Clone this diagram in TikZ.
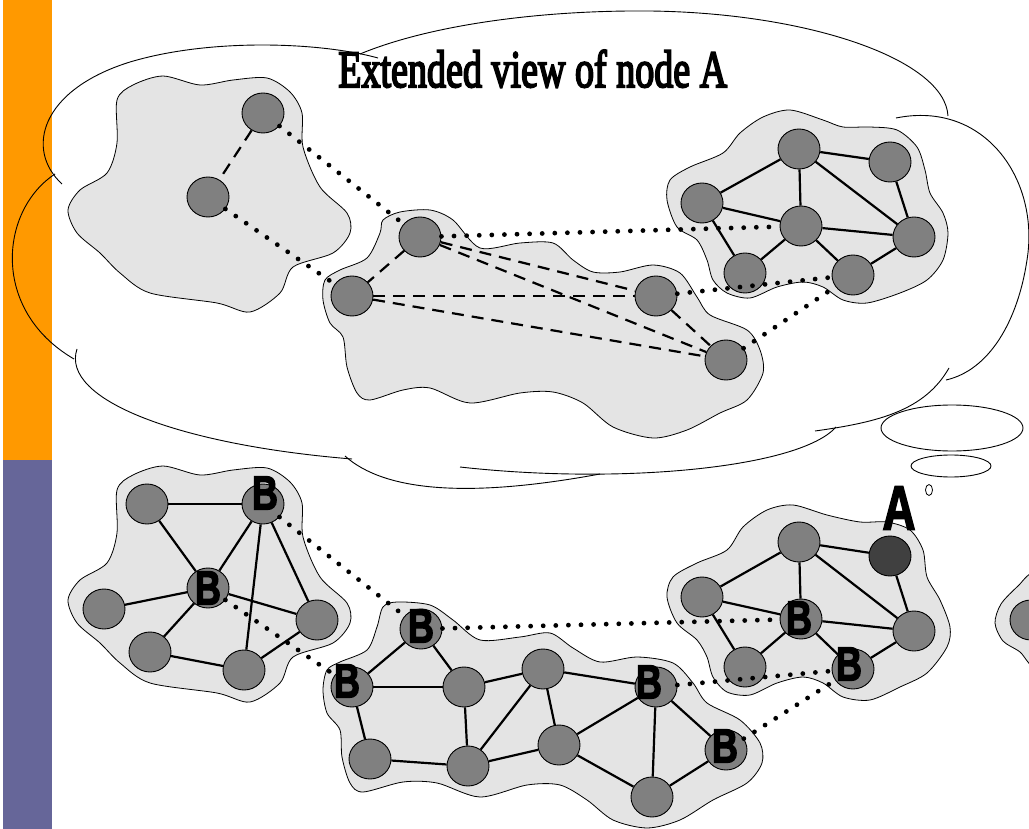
\documentclass[tikz,border=0pt]{standalone}
\usepackage{fontspec}
\setmainfont{Liberation Serif}
\setsansfont{Liberation Sans}
\newfontfamily\titlefont{Liberation Serif}[FakeBold=4]
\newfontfamily\labelfont{Liberation Sans Bold}[FakeBold=3]
\usetikzlibrary{shapes.geometric}
\definecolor{barorange}{HTML}{FF9900}
\definecolor{barpurple}{HTML}{666699}
\definecolor{blobgray}{HTML}{E4E4E4}
\definecolor{nodegray}{HTML}{808080}
\definecolor{nodedark}{HTML}{404040}
\begin{document}
\begin{tikzpicture}[x=1pt,y=-1pt,
  vtx/.style={ellipse, draw=black, line width=0.9pt, fill=nodegray, minimum width=42pt, minimum height=40pt, inner sep=0pt},
  avtx/.style={vtx, fill=nodedark},
  blob/.style={draw=black, line width=0.8pt, fill=blobgray},
  cloudline/.style={draw=black, line width=0.9pt},
  solidedge/.style={line width=2.2pt},
  dashedge/.style={line width=2.2pt, dash pattern=on 12pt off 8pt},
  dotedge/.style={line width=4.8pt, line cap=round, dash pattern=on 0pt off 12.6pt},
  blabel/.style={inner sep=0pt, font=\labelfont}
]
\useasboundingbox (0,0) rectangle (1029,829);
\begin{scope}
\clip (0,0) rectangle (1029,829);
% side bar
\fill[barorange] (3,0) rectangle (52,460);
\fill[barpurple] (3,460) rectangle (52,829);
% thought cloud
\draw[cloudline] (62,184) .. controls (25,150) and (40,90) .. (130,62) .. controls (210,38) and (320,42) .. (378,58);
\draw[cloudline] (360,54) .. controls (430,25) and (540,10) .. (650,11) .. controls (810,13) and (945,60) .. (948,116);
\draw[cloudline] (896,118) .. controls (985,100) and (1040,180) .. (1027,260) .. controls (1018,320) and (990,370) .. (946,380);
\draw[cloudline] (949,368) .. controls (925,410) and (880,422) .. (815,431);
\draw[cloudline] (836,427) .. controls (800,468) and (620,485) .. (460,467);
\draw[cloudline] (345,456) .. controls (385,492) and (470,498) .. (600,474);
\draw[cloudline] (77,349) .. controls (60,400) and (180,445) .. (352,459);
\draw[cloudline] (55,174) .. controls (0,210) and (-10,310) .. (74,359);
\draw[cloudline] (952,428) ellipse [x radius=71, y radius=23];
\draw[cloudline] (951,466) ellipse [x radius=40, y radius=11];
\draw[line width=0.8pt] (929,490) ellipse [x radius=3.5, y radius=5.5];
\node[anchor=base west, inner sep=0pt] (title) at (338,87) {\resizebox{389pt}{37pt}{\fontsize{50}{50}\titlefont Extended view of node A}};
% ---------- blobs ----------
\draw[blob] plot[smooth cycle] coordinates {(117,100) (133,85) (163,76) (200,85) (233,80) (267,78) (290,92) (302,113) (303,147) (320,187) (347,213) (350,233) (333,253) (293,267) (280,293) (250,312) (217,303) (150,293) (120,273) (100,253) (77,233) (68,210) (80,190) (107,173) (117,143)};
\draw[blob] plot[smooth cycle] coordinates {(383,220) (400,212) (430,210) (453,220) (480,248) (520,243) (553,243) (573,260) (593,272) (620,272) (653,265) (680,273) (697,297) (710,315) (747,330) (760,350) (763,373) (747,400) (720,413) (687,430) (653,438) (613,427) (583,403) (553,392) (520,393) (470,403) (430,388) (403,390) (370,400) (357,393) (347,367) (343,337) (330,323) (323,300) (325,280) (340,270) (367,258) (380,233)};
\draw[blob] plot[smooth cycle] coordinates {(667,200) (670,180) (690,167) (723,153) (740,133) (763,117) (790,110) (823,120) (843,127) (870,127) (897,130) (917,147) (925,170) (930,193) (943,213) (948,233) (943,260) (927,280) (900,293) (867,303) (843,300) (823,287) (803,282) (777,287) (750,298) (727,293) (713,280) (707,260) (697,240) (677,227)};
\begin{scope}[shift={(0,390)}]
\draw[blob] plot[smooth cycle] coordinates {(117,100) (133,85) (163,76) (200,85) (233,80) (267,78) (290,92) (302,113) (303,147) (320,187) (347,213) (350,233) (333,253) (293,267) (280,293) (250,312) (217,303) (150,293) (120,273) (100,253) (77,233) (68,210) (80,190) (107,173) (117,143)};
\end{scope}
\draw[blob] plot[smooth cycle] coordinates {(383,607) (397,602) (430,605) (453,620) (480,640) (520,637) (550,633) (573,648) (600,662) (637,657) (673,663) (693,683) (707,703) (740,720) (760,743) (762,763) (747,783) (713,800) (680,820) (647,828) (613,820) (587,800) (560,785) (527,785) (480,797) (437,783) (403,782) (363,792) (350,783) (342,757) (340,730) (327,713) (323,690) (327,670) (340,662) (367,650) (377,627)};
\draw[blob] plot[smooth cycle] coordinates {(667,597) (673,577) (697,563) (727,550) (743,527) (767,510) (793,505) (827,515) (860,522) (887,522) (910,530) (923,550) (927,577) (940,600) (950,627) (947,647) (927,673) (900,687) (870,700) (843,697) (823,683) (803,677) (777,683) (750,695) (727,692) (713,677) (707,657) (697,640) (677,623)};
\draw[blob] plot[smooth cycle] coordinates {(1035,572) (1018,586) (1001,604) (995,623) (1003,641) (1020,652) (1036,668) (1070,660) (1070,580)};
% ---------- top nodes ----------
\node[vtx] (n1) at (263,113) {};
\node[vtx] (n2) at (208,197) {};
\node[vtx] (m1) at (420,237) {};
\node[vtx] (m2) at (352,296) {};
\node[vtx] (m3) at (656,296) {};
\node[vtx] (m4) at (726,360) {};
\node[vtx] (c1) at (799,149) {};
\node[vtx] (c2) at (890,162) {};
\node[vtx] (c3) at (702,203) {};
\node[vtx] (c4) at (801,226) {};
\node[vtx] (c5) at (914,237) {};
\node[vtx] (c6) at (745,273) {};
\node[vtx] (c7) at (853,275) {};
% ---------- bottom nodes ----------
\node[vtx] (p1) at (147,504) {};
\node[vtx] (p2) at (263,504) {};
\node[vtx] (p3) at (208,588) {};
\node[vtx] (p4) at (104,609) {};
\node[vtx] (p5) at (317,620) {};
\node[vtx] (p6) at (150,652) {};
\node[vtx] (p7) at (244,670) {};
\node[vtx] (q1) at (421,629) {};
\node[vtx] (q2) at (352,687) {};
\node[vtx] (q3) at (464,687) {};
\node[vtx] (q4) at (543,669) {};
\node[vtx] (q5) at (656,687) {};
\node[vtx] (q6) at (370,759) {};
\node[vtx] (q7) at (468,766) {};
\node[vtx] (q8) at (559,745) {};
\node[vtx] (q9) at (726,750) {};
\node[vtx] (q10) at (652,797) {};
\node[vtx] (r1) at (799,542) {};
\node[avtx] (r2) at (890,556) {};
\node[vtx] (r3) at (702,597) {};
\node[vtx] (r4) at (801,619) {};
\node[vtx] (r5) at (914,631) {};
\node[vtx] (r6) at (745,667) {};
\node[vtx] (r7) at (853,669) {};
\node[vtx] (x1) at (1031,620) {};
% ---------- top edges ----------
\draw[dashedge] (n1) -- (n2);
\draw[dashedge] (m1) -- (m2);
\draw[dashedge] (m1) -- (m3);
\draw[dashedge] (m1) -- (m4);
\draw[dashedge] (m2) -- (m3);
\draw[dashedge] (m2) -- (m4);
\draw[dashedge] (m3) -- (m4);
\foreach \a/\b in {c3/c1,c1/c2,c1/c4,c1/c5,c2/c5,c3/c4,c3/c6,c4/c6,c4/c5,c4/c7,c7/c5}
  \draw[solidedge] (\a) -- (\b);
\draw[dotedge] (n1) -- (m1);
\draw[dotedge] (n2) -- (m2);
\draw[dotedge] (m1) -- (c4);
\draw[dotedge] (m3) -- (c7);
\draw[dotedge] (m4) -- (c7);
% ---------- bottom edges ----------
\foreach \a/\b in {p1/p2,p1/p3,p2/p3,p2/p7,p2/p5,p3/p4,p3/p5,p3/p6,p6/p7,p7/p5}
  \draw[solidedge] (\a) -- (\b);
\foreach \a/\b in {q1/q2,q1/q3,q2/q3,q2/q6,q3/q4,q3/q7,q4/q7,q4/q8,q4/q5,q6/q7,q7/q8,q8/q5,q8/q10,q5/q10,q5/q9,q9/q10}
  \draw[solidedge] (\a) -- (\b);
\foreach \a/\b in {r3/r1,r1/r2,r1/r4,r1/r5,r2/r5,r3/r4,r3/r6,r4/r6,r4/r5,r4/r7,r7/r5}
  \draw[solidedge] (\a) -- (\b);
\draw[dotedge] (p2) -- (q1);
\draw[dotedge] (p3) -- (q2);
\draw[dotedge] (q1) -- (r4);
\draw[dotedge] (q5) -- (r7);
\draw[dotedge] (q9) -- (r7);
% ---------- labels ----------
\node[blabel] (lb1) at (265,493) {\resizebox{26pt}{33pt}{B}};
\node[blabel] (lb2) at (208,588) {\resizebox{26pt}{33pt}{B}};
\node[blabel] (lb3) at (421,626) {\resizebox{26pt}{33pt}{B}};
\node[blabel] (lb4) at (347,681) {\resizebox{26pt}{33pt}{B}};
\node[blabel] (lb5) at (649,682) {\resizebox{26pt}{33pt}{B}};
\node[blabel] (lb6) at (725,746) {\resizebox{26pt}{33pt}{B}};
\node[blabel] (lb7) at (799,618) {\resizebox{26pt}{33pt}{B}};
\node[blabel] (lb8) at (849,664) {\resizebox{26pt}{33pt}{B}};
\node[blabel] (la) at (899,508) {\resizebox{33pt}{43pt}{A}};
\end{scope}
\end{tikzpicture}
\end{document}
